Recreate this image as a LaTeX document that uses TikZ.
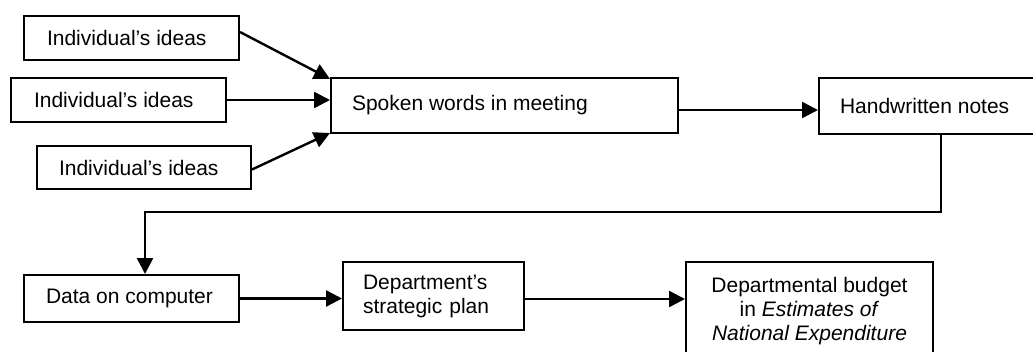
\documentclass[tikz,border=0pt]{standalone}
\usepackage{fontspec}
\setmainfont{Liberation Sans}
\usetikzlibrary{arrows.meta}
\begin{document}
\begin{tikzpicture}[x=1pt,y=-1pt,
  box/.style={draw, line width=2pt, inner sep=0pt, font=\fontsize{21}{24}\selectfont},
  arr/.style={line width=2.4pt, -{Triangle[length=16pt,width=16pt]}}]
\useasboundingbox (0,0) rectangle (1033,351);

\node[box, minimum width=215pt, minimum height=44pt] (i1) at (131.5,38) {\makebox[169pt][l]{Individual’s ideas}};
\node[box, minimum width=215pt, minimum height=44pt] (i2) at (118.5,100) {\makebox[169pt][l]{Individual’s ideas}};
\node[box, minimum width=214pt, minimum height=43pt] (i3) at (144,167.5) {\makebox[170pt][l]{Individual’s ideas}};
\node[box, minimum width=347pt, minimum height=55pt] (sp) at (504.5,105.5) {\makebox[305pt][l]{Spoken words in meeting}};
\node[box, minimum width=218pt, minimum height=56pt] (hw) at (928,106) {\makebox[176pt][l]{Handwritten notes}};
\node[box, minimum width=215pt, minimum height=47pt] (dc) at (131.5,298.5) {\makebox[171pt][l]{Data on computer}};
\node[box, text width=141pt, inner xsep=20pt, minimum height=68pt, align=left] (dp) at (433.5,296) {Department’s\\strategic plan};
\node[box, minimum width=247pt, minimum height=98pt, align=center] (bg) at (809.5,311) {Departmental budget\\in \textit{Estimates of}\\\textit{National Expenditure}};

\draw[arr] ([yshift=6pt]i1.east) -- ([yshift=-2pt]sp.north west);
\draw[arr] (i2.east) -- (i2.east -| sp.west);
\draw[arr] ([yshift=-2pt]i3.east) -- ([yshift=1pt]sp.south west);
\draw[arr] ([yshift=-4.5pt]sp.east) -- ([yshift=-4.5pt]sp.east -| hw.west);
\coordinate (bend) at (145,212);
\draw[arr] ([xshift=13pt]hw.south) |- (bend) -- (bend |- dc.north);
\draw[arr] (dc.east) -- (dc.east -| dp.west);
\draw[arr] ([yshift=-3pt]dp.east) -- ([yshift=-3pt]dp.east -| bg.west);
\end{tikzpicture}
\end{document}
